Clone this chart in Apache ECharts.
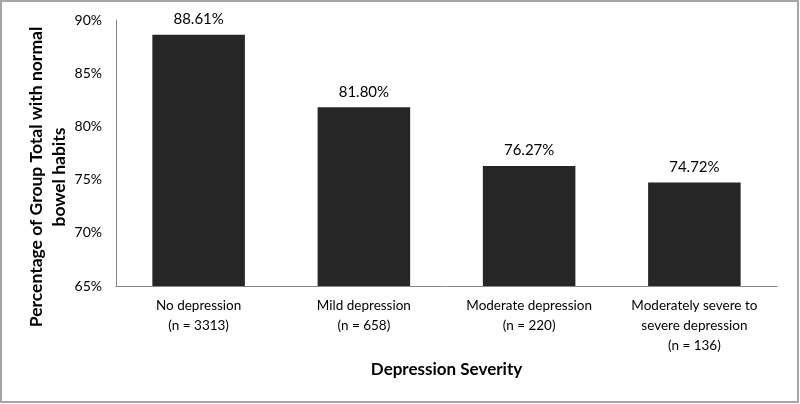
<!DOCTYPE html>
<html><head><meta charset="utf-8">
<script src="https://cdn.jsdelivr.net/npm/echarts@6/dist/echarts.min.js"></script>
<style>html,body{margin:0;padding:0;background:#fff}#c{width:800px;height:404px}</style>
</head><body><div id="c"></div>
<script>
const categories = ['No depression\n(n = 3313)', 'Mild depression\n(n = 658)', 'Moderate depression\n(n = 220)', 'Moderately severe to\nsevere depression\n(n = 136)'];
const values = [88.61, 81.80, 76.27, 74.72];
const yTicks = [65, 70, 75, 80, 85, 90];
const yTitle = 'Percentage of Group Total with normal\nbowel habits';
const xTitle = 'Depression Severity';
const font = 'Lato, "Open Sans", sans-serif';
const chart = echarts.init(document.getElementById('c'));
chart.setOption({
  animation: false,
  graphic: [
    {type:'rect', shape:{x:1, y:1, width:797, height:401}, style:{fill:'none', stroke:'#a6a6a6', lineWidth:2}},
    {type:'text', x:48, y:177, rotation:Math.PI/2,
     style:{text:yTitle, align:'center', verticalAlign:'middle', fontFamily:font, fontSize:17.5, fontWeight:'bold', lineHeight:23, fill:'#000'}}
  ],
  grid: {left:116, right:23, top:20, bottom:118},
  xAxis: {
    type:'category', data:categories,
    name:xTitle, nameLocation:'middle', nameGap:72,
    nameTextStyle:{fontFamily:font, fontSize:17, fontWeight:'bold', color:'#000'},
    axisLine:{lineStyle:{color:'#868686', width:1}}, axisTick:{show:false},
    axisLabel:{fontFamily:font, fontSize:13.5, color:'#000', lineHeight:20, margin:10, interval:0}
  },
  yAxis: {
    type:'value', min:yTicks[0], max:yTicks[yTicks.length-1], interval:5,
    axisLine:{show:true, lineStyle:{color:'#868686', width:1}}, axisTick:{show:false}, splitLine:{show:false},
    axisLabel:{fontFamily:font, fontSize:14, color:'#000', margin:14, formatter:'{value}%'}
  },
  series: [{
    type:'bar', data:values, barWidth:'56%',
    itemStyle:{color:'#262626'},
    label:{show:true, position:'top', distance:8, fontFamily:font, fontSize:15, color:'#000', formatter:p=>p.value.toFixed(2)+'%'}
  }]
});
</script></body></html>
